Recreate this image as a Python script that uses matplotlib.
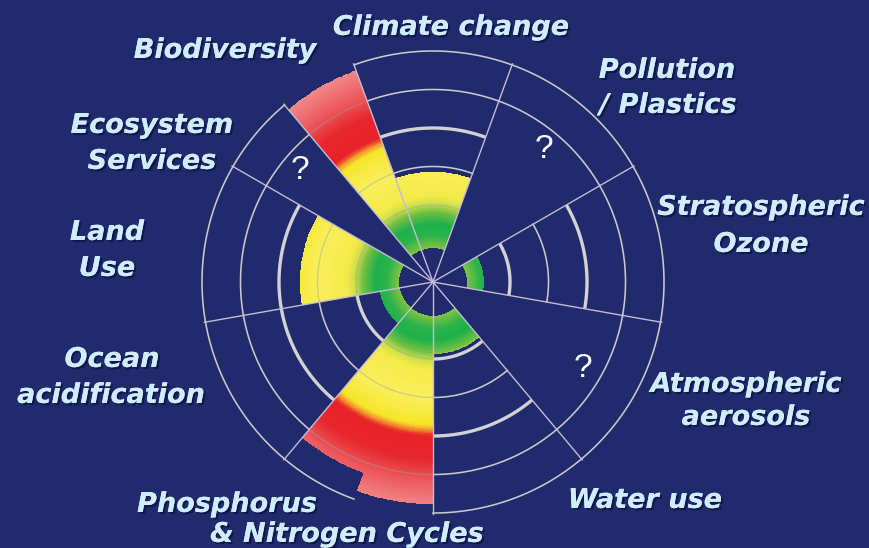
import numpy as np
import matplotlib
matplotlib.use('Agg')
import matplotlib.pyplot as plt
from matplotlib.colors import LinearSegmentedColormap, Normalize
import matplotlib.patheffects as pe

# ---------------- data ----------------
sectors = ['Climate change', 'Pollution / Plastics', 'Stratospheric Ozone',
           'Atmospheric aerosols', 'Water use', 'Phosphorus', 'Nitrogen',
           'Ocean acidification', 'Land Use', 'Ecosystem Services', 'Biodiversity']
sector_start = [340, 20, 60, 100, 140, 180, 200, 220, 260, 300, 320]   # deg, clockwise from north
sector_end = [380, 60, 100, 140, 180, 200, 220, 260, 300, 320, 340]
status_outer = [2.86, None, 1.32, None, 1.87, 5.77, 5.27, 1.40, 3.45, None, 5.84]  # ring units
status_inner = 0.88
unknown = [False, True, False, True, False, False, False, False, False, True, False]
thin_rings = [[3, 5, 6], [5, 6], [3, 5, 6], [5, 6], [3, 5, 6], [], [6], [3, 5, 6], [5, 6], [5, 6], []]
thick_rings = [[4], [], [2, 4], [], [2, 4], [], [], [2, 4], [4], [], []]
spoke_angles = [20, 60, 100, 140, 180, 220, 260, 300, 320, 340]
overlay_rings = [2, 3, 5]

label_lines = ['Climate change', 'Pollution', '/ Plastics', 'Stratospheric', 'Ozone',
               'Atmospheric', 'aerosols', 'Water use', 'Phosphorus', '& Nitrogen Cycles',
               'Ocean', 'acidification', 'Land', 'Use', 'Ecosystem', 'Services', 'Biodiversity']

# ---------------- layout / style ----------------
label_pos = [(451, 25), (667, 68), (668, 103), (761, 205), (761, 242),
             (746, 382), (746, 415), (645, 498), (227, 502), (347, 532),
             (112, 357), (111, 393), (107, 230), (107, 266), (152, 123), (152, 159),
             (225, 48)]

BG = '#202a6c'
W, H = 870, 548
unit = 38.5
cx, cy = 433, 282
rmax = 6.3
Rpx = rmax * unit

stops = [(0.0, '#8cc63f'), (0.85, '#86c440'), (1.2, '#2db34a'), (1.5, '#1cb04b'),
         (1.8, '#6cbe44'), (2.05, '#d2e04a'), (2.25, '#f4ea48'), (3.0, '#f8ee5c'),
         (3.7, '#f6e62a'), (3.82, '#f3a72f'), (3.9, '#ee6a2a'), (4.0, '#e92128'),
         (4.6, '#e6262c'), (5.2, '#ec5a5e'), (6.0, '#f29191')]
cmap = LinearSegmentedColormap.from_list('pb', [(v / 6.0, c) for v, c in stops])
norm = Normalize(0, 6)

fig = plt.figure(figsize=(W / 100, H / 100), dpi=100, facecolor=BG)
ax = fig.add_axes([(cx - Rpx) / W, (H - cy - Rpx) / H, 2 * Rpx / W, 2 * Rpx / H],
                  projection='polar')
ax.set_theta_zero_location('N')
ax.set_theta_direction(-1)
ax.set_ylim(0, rmax)
ax.set_facecolor('none')
ax.axis('off')

ring_col = '#c9c9cc'

# status wedges with radial gradient
for s, e, out in zip(sector_start, sector_end, status_outer):
    if out is None:
        continue
    th = np.deg2rad(np.linspace(s, e, 41))
    rr = np.linspace(status_inner, out, int((out - status_inner) * 50) + 2)
    T, Rg = np.meshgrid(th, rr)
    C = (0.5 * (rr[:-1] + rr[1:]))[:, None] * np.ones((1, len(th) - 1))
    ax.pcolormesh(T, Rg, C, cmap=cmap, norm=norm, shading='flat', zorder=2,
                  antialiased=False)
    for k in overlay_rings:
        if k < out:
            ax.plot(th, np.full_like(th, k), color='#a0a0a0', lw=0.9, alpha=0.45, zorder=3)

# rings per sector
for s, e, thin, thick in zip(sector_start, sector_end, thin_rings, thick_rings):
    th = np.deg2rad(np.linspace(s, e, 80))
    for k in thin:
        ax.plot(th, np.full_like(th, k), color=ring_col, lw=1.15, zorder=1)
    for k in thick:
        ax.plot(th, np.full_like(th, k), color='#d2d2d4', lw=2.4, zorder=1,
                solid_capstyle='butt')

# spokes
for a in spoke_angles:
    t = np.deg2rad(a)
    ax.plot([t, t], [0, 6.03], color='#c4bcd4', lw=1.0, zorder=4)

# question marks for unquantified boundaries
for s, e, u in zip(sector_start, sector_end, unknown):
    if u:
        ax.text(np.deg2rad((s + e) / 2), 4.5, '?', ha='center', va='center',
                fontsize=24, color='white', family='Liberation Sans', zorder=5)

# labels
tax = fig.add_axes([0, 0, 1, 1], zorder=10)
tax.set_xlim(0, W)
tax.set_ylim(H, 0)
tax.axis('off')
fs = 19.5
em = fs * 100 / 72
for txt, (x, y) in zip(label_lines, label_pos):
    tax.text(x, y + 0.365 * em, txt, ha='center', va='baseline', fontsize=fs,
             fontweight='bold', fontstyle='italic', family='DejaVu Sans',
             color='#d0edff',
             path_effects=[pe.withSimplePatchShadow(offset=(1.5, -1.5),
                                                    shadow_rgbFace='#0b1040', alpha=0.7),
                           pe.Normal()])

fig.savefig('out.png', dpi=100, facecolor=BG)
